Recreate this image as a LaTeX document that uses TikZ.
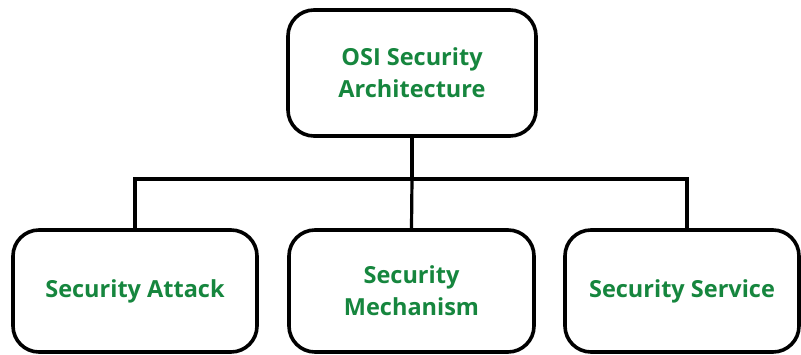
\documentclass[tikz,border=0pt]{standalone}
\usepackage{fontspec}
\setmainfont{Open Sans}
\definecolor{txtgreen}{RGB}{22,134,62}
\begin{document}
\begin{tikzpicture}[x=1pt,y=1pt,
  box/.style={draw=black, line width=3.6pt, rounded corners=26pt, fill=white,
    align=center, font=\fontsize{23.5}{32}\selectfont\bfseries, text=txtgreen,
    inner sep=0pt},
  conn/.style={draw=black, line width=3.2pt}]
\useasboundingbox (0,0) rectangle (801,354);
\node[box, minimum width=248pt, minimum height=126pt] (top) at (412,281) {OSI Security\\Architecture};
\node[box, minimum width=244pt, minimum height=122pt] (attack) at (135,63) {Security Attack};
\node[box, minimum width=245pt, minimum height=122pt] (mech) at (411.5,63) {Security\\Mechanism};
\node[box, minimum width=234pt, minimum height=122pt] (serv) at (682,63) {Security Service};
\coordinate (busL) at (135,175);
\coordinate (busR) at (687,175);
\coordinate (busM) at (top.south |- busL);
\draw[conn] (top.south) -- (busM);
\draw[conn, line join=miter] (busL |- attack.north) -- (busL) -- (busR) -- (busR |- serv.north);
\draw[conn] (busM) -- (mech.north);
\end{tikzpicture}
\end{document}
